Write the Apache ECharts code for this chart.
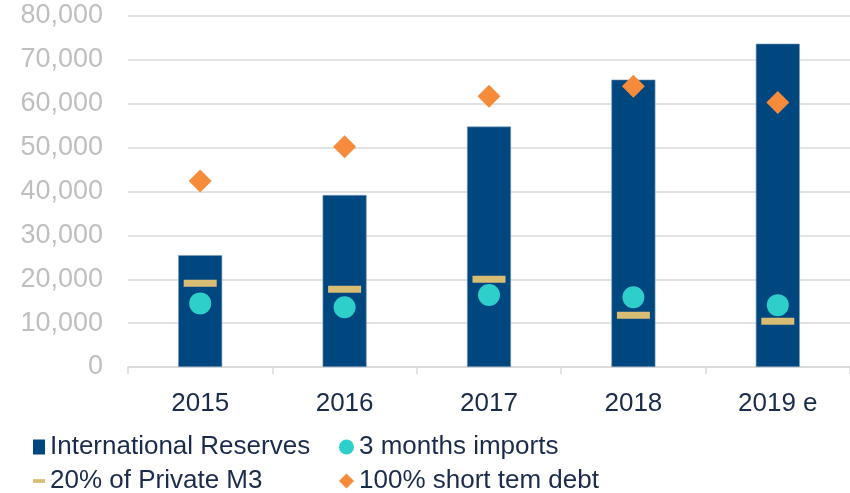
<!DOCTYPE html>
<html>
<head>
<meta charset="utf-8">
<style type="text/css">
html, body {margin: 0; padding: 0; background: #fff;}
#chart {width: 850px; height: 493px;}
</style>
</head>
<body>
<div id="chart"></div>
<script src="https://cdn.jsdelivr.net/npm/echarts@6/dist/echarts.min.js"></script>
<script type="text/javascript">
var years = ['2015', '2016', '2017', '2018', '2019 e'];
var reserves = [25500, 39200, 54800, 65500, 73700];
var imports3m = [14500, 13600, 16400, 15900, 14100];
var privateM3 = [19100, 17700, 20000, 11800, 10400];
var shortDebt = [42400, 50200, 61700, 64000, 60300];
var yTicks = {min: 0, max: 80000, step: 10000};

var navy = '#00467F';
var textColor = '#1B2B4B';
var font = 'Arial, "Liberation Sans", sans-serif';

var chart = echarts.init(document.getElementById('chart'));
var dashIcon = 'path://M0,0 M0,5 L16,5 L16,10 L0,10 Z M16,15';

var legendText = {fontSize: 26, color: textColor, lineHeight: 24};

var option = {
    animation: false,
    textStyle: {fontFamily: font},
    grid: {left: 128, right: 0, top: 16, bottom: 126},
    legend: [
        {
            orient: 'vertical',
            left: 33, top: 434, height: 60,
            padding: 0,
            itemWidth: 12, itemHeight: 15, itemGap: 8,
            textStyle: legendText,
            data: [
                {name: 'International Reserves', icon: 'rect', itemStyle: {borderWidth: 0}},
                {name: '20% of Private M3', icon: dashIcon}
            ]
        },
        {
            orient: 'vertical',
            left: 339, top: 434, height: 60,
            padding: 0,
            itemWidth: 15, itemHeight: 15, itemGap: 8,
            textStyle: legendText,
            data: [
                {name: '3 months imports', icon: 'circle'},
                {name: '100% short tem debt', icon: 'diamond'}
            ]
        }
    ],
    xAxis: {
        type: 'category',
        data: years,
        axisLine: {lineStyle: {color: '#D9D9D9', width: 1.5}},
        axisTick: {show: true, length: 7, lineStyle: {color: '#D9D9D9', width: 1.5}},
        axisLabel: {fontSize: 26, color: textColor, margin: 24}
    },
    yAxis: {
        type: 'value',
        min: yTicks.min, max: yTicks.max, interval: yTicks.step,
        axisLine: {show: false},
        axisTick: {show: false},
        splitLine: {lineStyle: {color: '#D9D9D9', width: 1.5}},
        axisLabel: {
            fontSize: 27, color: '#BFBFBF', margin: 25,
            formatter: function (v) { return v.toLocaleString('en-US'); }
        }
    },
    series: [
        {
            name: 'International Reserves',
            type: 'bar',
            barWidth: 44,
            itemStyle: {color: navy, borderColor: '#7F9DBA', borderWidth: 0.6},
            data: reserves
        },
        {
            name: '20% of Private M3',
            type: 'scatter',
            symbol: 'rect',
            symbolSize: [33, 7],
            itemStyle: {color: '#D9BD75', opacity: 1},
            data: privateM3
        },
        {
            name: '3 months imports',
            type: 'scatter',
            symbol: 'circle',
            symbolSize: 22,
            itemStyle: {color: '#2ECFCB', opacity: 1},
            data: imports3m
        },
        {
            name: '100% short tem debt',
            type: 'scatter',
            symbol: 'diamond',
            symbolSize: 23,
            itemStyle: {color: '#F68B3C', opacity: 1},
            data: shortDebt
        }
    ]
};
chart.setOption(option);
</script>
</body>
</html>
